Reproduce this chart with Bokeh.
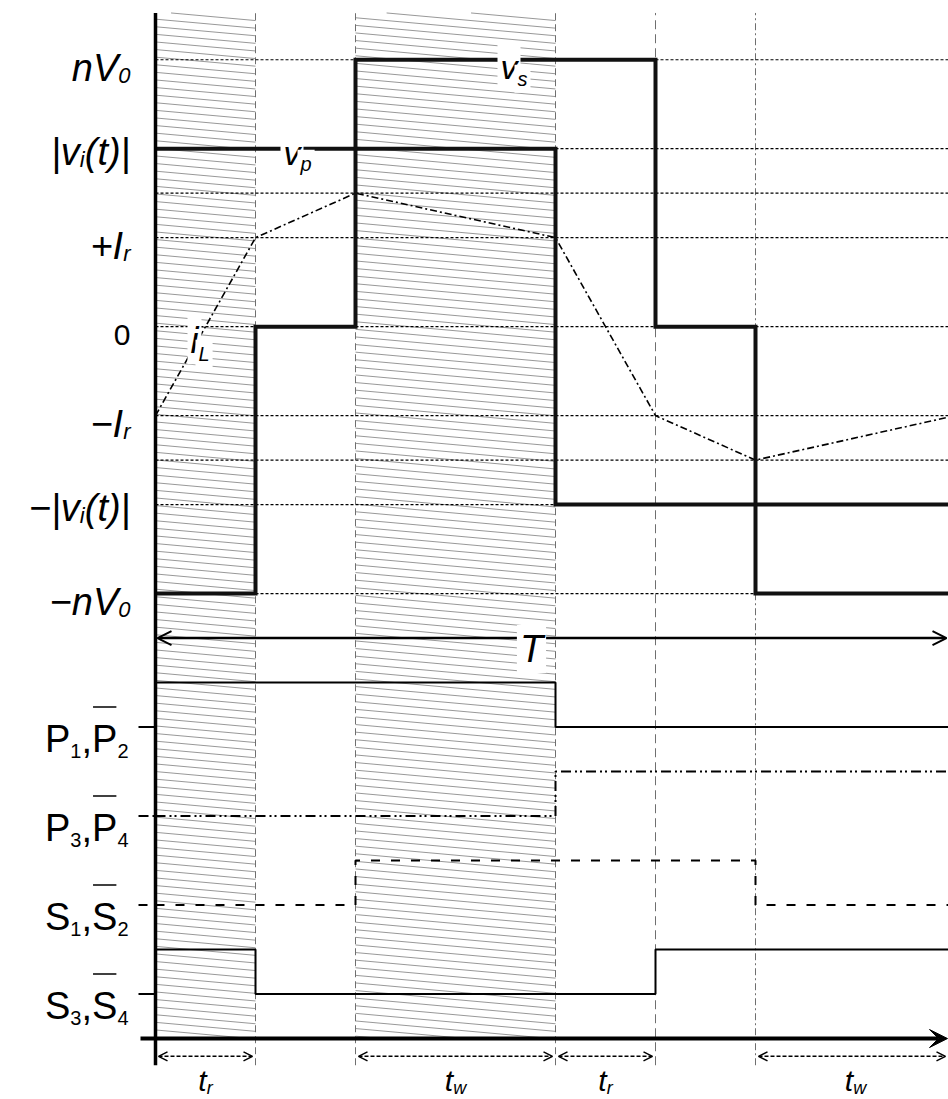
import numpy as np
from bokeh.plotting import figure
from bokeh.models import Range1d, Label, Arrow, OpenHead, VeeHead, ColumnDataSource
from bokeh.embed import file_html
from bokeh.resources import INLINE

# ---------------- data ----------------
# time axis (one unit = one sub-interval)
interval_start = [0, 2, 4, 6]
interval_end = [1, 4, 5, 8]
interval_sub = ["r", "w", "r", "w"]
shaded_start = [0, 2]
shaded_end = [1, 4]
guide_x = [1, 2, 4, 5, 6]
guide_dash = ["7 4", "7 4", "7 4", "9 5", "7 3 2 3"]

# waveform levels (upper panel)
level_values = [6, 4, 3, 2, 0, -2, -3, -4, -6]
level_labels = [
    [("nV", "m"), ("0", "s")],
    [("|v", "m"), ("i", "s"), ("(t)|", "m")],
    None,
    [("+I", "m"), ("r", "s")],
    [("0", "d")],
    [("−I", "m"), ("r", "s")],
    None,
    [("−|v", "m"), ("i", "s"), ("(t)|", "m")],
    [("−nV", "m"), ("0", "s")],
]

# primary voltage v_p, secondary voltage v_s, inductor current i_L
vp_t = [0, 4, 4, 8]
vp_y = [4, 4, -4, -4]
vs_t = [0, 1, 1, 2, 2, 5, 5, 6, 6, 8]
vs_y = [-6, -6, 0, 0, 6, 6, 0, 0, -6, -6]
il_t = [0, 1, 2, 4, 5, 6, 8]
il_y = [-2, 2, 3, 2, -2, -3, -2]

# gate signals (lower panel): low level of each row, state 0/1
gate_low = [-9, -11, -13, -15]
gate_labels = [("P", "1", "P", "2"), ("P", "3", "P", "4"), ("S", "1", "S", "2"), ("S", "3", "S", "4")]
p12_t = [0, 4, 4, 8]
p12_s = [1, 1, 0, 0]
p34_t = [0, 4, 4, 8]
p34_s = [0, 0, 1, 1]
s12_t = [0, 2, 2, 6, 6, 8]
s12_s = [0, 0, 1, 1, 0, 0]
s34_t = [0, 1, 1, 5, 5, 8]
s34_s = [1, 1, 0, 0, 1, 1]

# ---------------- layout ----------------
W, H = 948, 1099
X0, X1 = -1.55, 7.93
Y0, Y1 = -17.37, 7.33
PX_X = W / (X1 - X0)
PX_Y = H / (Y1 - Y0)
Y_TOP = 7.05
Y_BOTTOM = -16.6
Y_AXIS = -16.0
T_Y = -7.0
TA_Y = -16.4
TL_Y = -16.95
FONT = "Liberation Sans"
HATCH_STEP_PX = 7.6
HATCH_SLOPE = 0.09

CHAR_W = {"n": 556, "V": 667, "0": 556, "|": 260, "v": 500, "i": 222, "(": 333, "t": 278,
          ")": 333, "+": 584, "I": 278, "r": 333, "−": 584, "P": 667, "1": 556, "2": 556,
          "3": 556, "4": 556, ",": 278, "S": 667, "p": 556, "s": 500, "L": 556, "w": 722,
          "T": 611}


def text_w(s, size):
    return sum(CHAR_W.get(c, 556) for c in s) * size / 1000.0


p = figure(width=W, height=H, x_range=Range1d(X0, X1), y_range=Range1d(Y0, Y1),
           output_backend="svg", toolbar_location=None, min_border=0,
           x_axis_location=None, y_axis_location=None, outline_line_color=None,
           background_fill_color="white", border_fill_color="white")
p.grid.visible = False


def put_parts(parts, xa, ya, align="left", dx=0.0, dy=0.0, bg=False):
    """parts: list of (text, size_px, style, extra_dy_px). dy>0 moves down (px)."""
    ws = [text_w(t, sz) for t, sz, st, e in parts]
    total = sum(ws)
    cur = {"right": -total, "center": -total / 2.0, "left": 0.0}[align] + dx
    spans = []
    for (t, sz, st, e), w in zip(parts, ws):
        lab = Label(x=xa + cur / PX_X, y=ya - (dy + e) / PX_Y, text=t,
                    text_font=FONT, text_font_size=f"{sz}px", text_font_style=st,
                    text_align="left", text_baseline="alphabetic", text_color="black")
        if bg:
            lab.background_fill_color = "white"
            lab.padding = 3
        p.add_layout(lab)
        spans.append((cur, w))
        cur += w
    return spans


# hatched (shaded) intervals: thin slanted lines clipped to each interval
hx, hy = [], []
for a, b in zip(shaded_start, shaded_end):
    drop = HATCH_SLOPE * (b - a) * PX_X / PX_Y
    k = drop / (b - a)
    step = HATCH_STEP_PX / PX_Y
    for y0 in np.arange(Y_TOP + drop, Y_AXIS, -step):
        xs, ys, xe, ye = a, y0, b, y0 - drop
        if ys > Y_TOP:
            xs, ys = a + (y0 - Y_TOP) / k, Y_TOP
        if ye < Y_AXIS:
            xe, ye = a + (y0 - Y_AXIS) / k, Y_AXIS
        if xe - xs > 1e-3:
            hx.append([xs, xe])
            hy.append([ys, ye])
p.multi_line(hx, hy, line_color="#8c8c8c", line_width=0.9)

# vertical guides
for gx, gd in zip(guide_x, guide_dash):
    p.segment(x0=[gx], y0=[Y_BOTTOM], x1=[gx], y1=[Y_TOP], line_color="#6f6f6f",
              line_width=1, line_dash=gd)

# horizontal level guides
p.segment(x0=[0] * len(level_values), x1=[X1] * len(level_values), y0=level_values, y1=level_values,
          line_color="black", line_width=1.1, line_dash="3 2")

# waveforms
p.line(il_t, il_y, line_color="black", line_width=1.6, line_dash="7 3 2 3")
p.line(vp_t, vp_y, line_color="#111111", line_width=4, line_join="miter")
p.line(vs_t, vs_y, line_color="#111111", line_width=4, line_join="miter")

# gate signals
gate_series = [(p12_t, p12_s, None), (p34_t, p34_s, "10 4 2 3 2 4"),
               (s12_t, s12_s, "9 11"), (s34_t, s34_s, None)]
for (gt, gs, gd), low in zip(gate_series, gate_low):
    ys = [low + s for s in gs]
    kw = dict(line_color="black", line_width=2)
    if gd:
        kw["line_dash"] = gd
    p.line(gt, ys, **kw)
    p.segment(x0=[-0.17], x1=[0], y0=[low], y1=[low], **kw)

# left axis
p.segment(x0=[0], y0=[Y_BOTTOM], x1=[0], y1=[Y_TOP], line_color="black", line_width=3.5)

# bottom time axis
p.add_layout(Arrow(end=VeeHead(size=18, fill_color="black", line_color="black"),
                   x_start=-0.15, y_start=Y_AXIS, x_end=X1 - 0.01, y_end=Y_AXIS,
                   line_color="black", line_width=4))

# period arrow T
p.add_layout(Arrow(start=OpenHead(size=14, line_width=2), end=OpenHead(size=14, line_width=2),
                   x_start=0.02, y_start=T_Y, x_end=X1 - 0.02, y_end=T_Y,
                   line_color="black", line_width=2.5))
put_parts([("T", 38, "italic", 0)], 3.73, T_Y, align="center", dy=11, bg=True)

# interval arrows and labels
arr_src = ColumnDataSource(dict(x0=[s + 0.03 for s in interval_start],
                                x1=[min(e - 0.03, X1 - 0.03) for e in interval_end],
                                y=[TA_Y] * len(interval_start)))
p.add_layout(Arrow(start=OpenHead(size=9, line_width=1.5), end=OpenHead(size=9, line_width=1.5),
                   x_start="x0", y_start="y", x_end="x1", y_end="y", source=arr_src,
                   line_color="black", line_width=1.5, line_dash="4 2"))
for s, e, sub in zip(interval_start, interval_end, interval_sub):
    put_parts([("t", 30, "italic", 0), (sub, 18, "italic", 7)], (s + e) / 2.0, TL_Y, align="center")

# level labels on the left
role_style = {"m": (38, "italic", 0), "s": (22, "italic", 8), "d": (30, "normal", 0)}
for lv, parts in zip(level_values, level_labels):
    if not parts:
        continue
    full = "".join(t for t, r in parts)
    base_dy = 3 if "|" in full else 8
    pp = [(t,) + role_style[r] for t, r in parts]
    put_parts(pp, 0, lv, align="right", dx=-25, dy=base_dy)

# gate labels on the left (with overbar on the complementary switch)
for low, (a, an, b, bn) in zip(gate_low, gate_labels):
    pp = [(a, 38, "normal", 0), (an, 20, "normal", 12), (",", 38, "normal", 0),
          (b, 38, "normal", 0), (bn, 20, "normal", 12)]
    spans = put_parts(pp, 0, low, align="right", dx=-27, dy=12)
    bx, bw = spans[3]
    yb = low + (32 - 12) / PX_Y
    p.segment(x0=[(bx + 1) / PX_X], x1=[(bx + bw - 1) / PX_X], y0=[yb], y1=[yb],
              line_color="black", line_width=1.5)

# curve labels
put_parts([("v", 34, "italic", 0), ("p", 20, "italic", 11)], 1.25, vp_y[0], dy=4, bg=True)
put_parts([("v", 34, "italic", 0), ("s", 20, "italic", 12)], 3.42, max(vs_y), dy=7, bg=True)
put_parts([("i", 36, "italic", 0), ("L", 20, "italic", 13)], 0.32, 0, dy=14, bg=True)

open("out.html", "w").write(file_html(p, INLINE))
